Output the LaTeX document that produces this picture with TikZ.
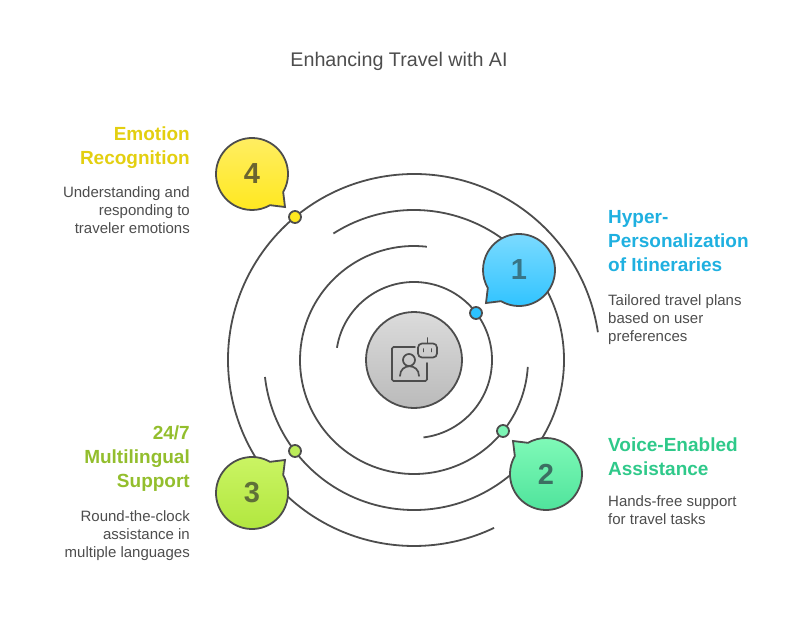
\documentclass[tikz,border=0pt]{standalone}
\usepackage{fontspec}
\setmainfont{Liberation Sans}
\usetikzlibrary{positioning, calc}

\definecolor{linegray}{HTML}{4D4D4D}
\definecolor{bluehead}{HTML}{1FB0E0}
\definecolor{greenhead}{HTML}{2FC98A}
\definecolor{limehead}{HTML}{93BE2D}
\definecolor{yellowhead}{HTML}{E3CF10}
\definecolor{bluetop}{HTML}{80DCFF}
\definecolor{bluefill}{HTML}{2CC2FF}
\definecolor{greentop}{HTML}{80FAB8}
\definecolor{greenfill}{HTML}{4CE29A}
\definecolor{greendot}{HTML}{7CF5B5}
\definecolor{limetop}{HTML}{CCF566}
\definecolor{limefill}{HTML}{B0E63C}
\definecolor{limedot}{HTML}{BCEC5A}
\definecolor{yellowtop}{HTML}{FFEE66}
\definecolor{yellowfill}{HTML}{FFE81F}
\definecolor{bluenum}{HTML}{387587}
\definecolor{greennum}{HTML}{3C6F62}
\definecolor{limenum}{HTML}{5F7038}
\definecolor{yellownum}{HTML}{6B6530}

% outline of a speech bubble: centre, tail direction, top and bottom colour
\newcommand{\bubble}[4]{
  \draw[ring,top color=#3,bottom color=#4] (#1) ++({#2+15}:36)
    arc[start angle={#2+15},delta angle=330,radius=36]
    -- ($(#1)+(#2:46.7)$) -- cycle;
}

\begin{document}
\begin{tikzpicture}[
        x=1pt,y=1pt,
        ring/.style={
          draw=linegray,
          line width=1.8pt
        },
        dot/.style={
          ring,
          circle,
          minimum size=12pt,
          inner sep=0pt
        },
        icon/.style={
          ring,
          line width=1.7pt,
          line cap=round
        },
        number/.style={
          font=\bfseries\fontsize{29}{29}\selectfont
        },
        head/.style={
          font=\bfseries\fontsize{19}{24}\selectfont,
          inner sep=0pt
        },
        desc/.style={
          font=\fontsize{15}{18}\selectfont,
          text=linegray,
          inner sep=0pt
        },
        node distance=14pt
      ]
        \useasboundingbox (0,0) rectangle (798,-618);

        \node[font=\fontsize{19.7}{24}\selectfont,text=linegray] (title) at (399,-61) {Enhancing Travel with AI};

        \coordinate (c) at (414,-360);

        % the four rings
        \draw[ring] (c) ++(171:78) arc[start angle=171,end angle=-83,radius=78];
        \draw[ring] (c) ++(83.5:114) arc[start angle=83.5,end angle=356.5,radius=114];
        \draw[ring] (c) ++(122.5:150) arc[start angle=122.5,end angle=-173.5,radius=150];
        \draw[ring] (c) ++(8.6:186) arc[start angle=8.6,end angle=295.5,radius=186];

        % centre with icon
        \node[ring,circle,minimum size=96pt,inner sep=0pt,top color=black!14,bottom color=black!27] (hub) at (c) {};
        \draw[icon,rounded corners=1.5pt] (415,-347) -- (392,-347) -- (392,-381) -- (427,-381) -- (427,-363);
        \node[icon,circle,minimum size=12pt,inner sep=0pt] (userhead) at (409,-360) {};
        \draw[icon] (400,-376) .. controls (400,-363) and (419,-363) .. (419,-376);
        \node[icon,rounded corners=4pt,minimum width=19pt,minimum height=14pt,inner sep=0pt] (robot) at (427.5,-350.5) {};
        \coordinate (antenna) at (427.5,-338);
        \draw[icon] (robot.north) -- (antenna);
        \draw[icon,line width=1.9pt] (423.5,-349) -- (423.5,-351.5);
        \draw[icon,line width=1.9pt] (431.5,-349) -- (431.5,-351.5);

        % dots on the rings
        \node[dot,fill=bluefill] (d1) at (476,-313) {};
        \node[dot,fill=greendot] (d2) at (503,-431) {};
        \node[dot,fill=limedot] (d3) at (295,-451) {};
        \node[dot,fill=yellowfill] (d4) at (295,-217) {};

        % bubbles
        \coordinate (b1) at (519,-270);
        \coordinate (b2) at (546,-474);
        \coordinate (b3) at (252,-493);
        \coordinate (b4) at (252,-174);
        \bubble{b1}{225}{bluetop}{bluefill}
        \bubble{b2}{135}{greentop}{greenfill}
        \bubble{b3}{45}{limetop}{limefill}
        \bubble{b4}{-45}{yellowtop}{yellowfill}
        \node[number,text=bluenum] (n1) at (b1) {1};
        \node[number,text=greennum] (n2) at (b2) {2};
        \node[number,text=limenum] (n3) at (b3) {3};
        \node[number,text=yellownum] (n4) at (b4) {4};

        % texts right
        \node[head,text=bluehead,align=left,anchor=north west] (h1) at (608,-210.5) {Hyper-\\Personalization\\of Itineraries};
        \node[desc,align=left,below=22pt of h1.south west,anchor=north west] (t1) {Tailored travel plans\\based on user\\preferences};
        \node[head,text=greenhead,align=left,anchor=north west] (h2) at (608,-437.5) {Voice-Enabled\\Assistance};
        \node[desc,align=left,below=20pt of h2.south west,anchor=north west] (t2) {Hands-free support\\for travel tasks};

        % texts left
        \node[head,text=yellowhead,align=right,anchor=north east] (h4) at (190,-126.5) {Emotion\\Recognition};
        \node[desc,align=right,below=18pt of h4.south east,anchor=north east] (t4) {Understanding and\\responding to\\traveler emotions};
        \node[head,text=limehead,align=right,anchor=north east] (h3) at (190,-425.5) {24/7\\Multilingual\\Support};
        \node[desc,align=right,below=19pt of h3.south east,anchor=north east] (t3) {Round-the-clock\\assistance in\\multiple languages};
      \end{tikzpicture}
\end{document}
